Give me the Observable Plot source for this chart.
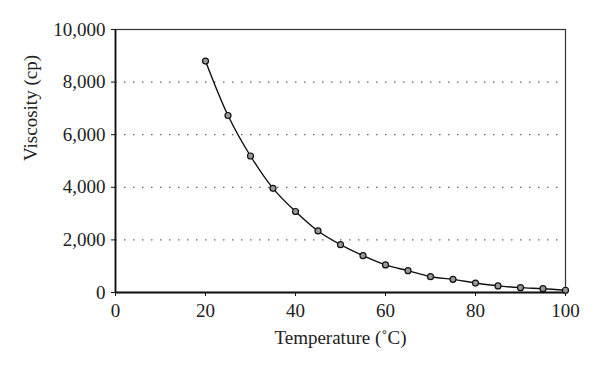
<!DOCTYPE html>
<html>
<head>
<meta charset="utf-8">
<script src="https://cdn.jsdelivr.net/npm/d3@7"></script>
<script src="https://cdn.jsdelivr.net/npm/@observablehq/plot@0.6"></script>
<style>
  html, body { margin: 0; padding: 0; background: #fff; }
</style>
</head>
<body>
<div id="chart"></div>
<script>
const temperature = [20, 25, 30, 35, 40, 45, 50, 55, 60, 65, 70, 75, 80, 85, 90, 95, 100];
const viscosity = [8800, 6730, 5190, 3960, 3080, 2340, 1820, 1400, 1050, 830, 600, 500, 360, 250, 185, 145, 85];
const xTicks = [0, 20, 40, 60, 80, 100];
const yTicks = [0, 2000, 4000, 6000, 8000, 10000];
const gridValues = [2000, 4000, 6000, 8000];

const data = temperature.map((t, i) => ({t, v: viscosity[i]}));

const chart = Plot.plot({
  width: 600,
  height: 373,
  marginLeft: 115,
  marginRight: 35,
  marginTop: 29,
  marginBottom: 81,
  style: {fontFamily: "'Liberation Serif', 'DejaVu Serif', serif", fontSize: "19px", color: "#222", background: "#fff"},
  x: {domain: [0, 100], ticks: xTicks, label: null},
  y: {domain: [0, 10000], ticks: yTicks, tickFormat: d3.format(","), label: null},
  marks: [
    Plot.ruleY(gridValues, {stroke: "#666", strokeDasharray: "1.5,7.5", strokeWidth: 1.2}),
    Plot.frame({stroke: "#333", strokeWidth: 1.2}),
    Plot.ruleX([0], {stroke: "#111", strokeWidth: 1.8}),
    Plot.ruleY([0], {stroke: "#111", strokeWidth: 1.8}),
    Plot.axisX({ticks: xTicks, tickSize: 4, tickPadding: 7, label: null, stroke: "#111", fontSize: 19}),
    Plot.axisY({ticks: yTicks, tickSize: 4, tickPadding: 6, tickFormat: d3.format(","), label: null, stroke: "#111", fontSize: 19}),
    Plot.text(["Temperature (˚C)"], {frameAnchor: "bottom", dy: 51, fontSize: 19, fill: "#222"}),
    Plot.text(["Viscosity (cp)"], {frameAnchor: "left", dx: -85, rotate: -90, fontSize: 19, fill: "#222"}),
    Plot.line(data, {x: "t", y: "v", stroke: "#111", strokeWidth: 1.4, curve: "catmull-rom"}),
    Plot.dot(data, {x: "t", y: "v", r: 3, fill: "#999", stroke: "#111", strokeWidth: 1.2})
  ]
});

document.getElementById("chart").appendChild(chart);
</script>
</body>
</html>
